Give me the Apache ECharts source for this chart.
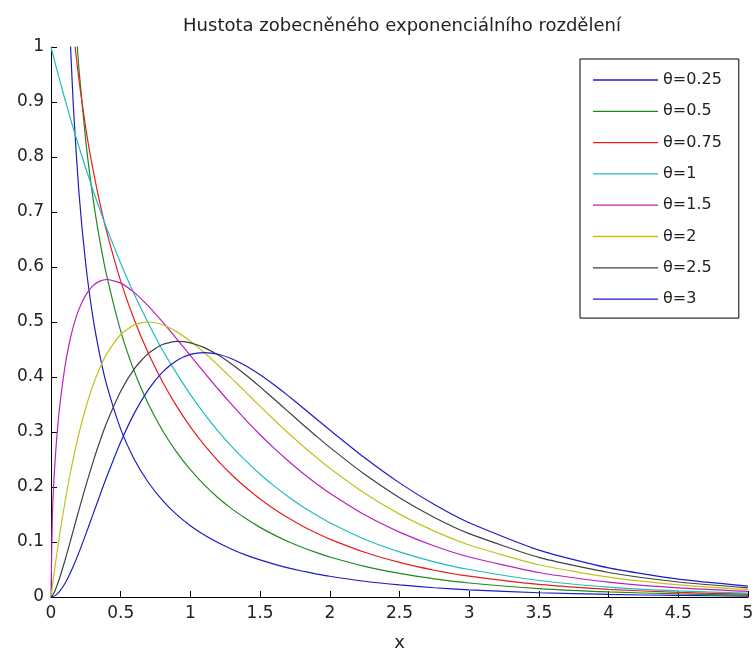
<!DOCTYPE html>
<html>
<head>
<meta charset="utf-8">
<title>Hustota zobecněného exponenciálního rozdělení</title>
<script src="https://cdn.jsdelivr.net/npm/echarts@6/dist/echarts.min.js"></script>
<style>
    html, body { margin: 0; padding: 0; background: #fff; }
    #main { width: 755px; height: 651px; }
</style>
</head>
<body>
<div id="main"></div>
<script>
// x hodnoty
var xs = [0, 0.01, 0.03, 0.06, 0.1, 0.13, 0.16, 0.2, 0.25, 0.3, 0.35, 0.4, 0.5, 0.6, 0.7, 0.8, 0.9, 1.0, 1.1, 1.2, 1.3, 1.4, 1.5, 1.6, 1.7, 1.8, 1.9, 2.0, 2.25, 2.5, 2.75, 3.0, 3.5, 4.0, 4.5, 5.0];

var names = ['θ=0.25', 'θ=0.5', 'θ=0.75', 'θ=1', 'θ=1.5', 'θ=2', 'θ=2.5', 'θ=3'];
var colors = ['#1c1cc8', '#1f8a1f', '#e61e1e', '#1fbdbd', '#bd1fbd', '#c2c21f', '#404040', '#1c1cc8'];

// hustoty
var y025 = [null, 7.856, 3.404, 1.986, 1.3204, 1.0642, 0.8935, 0.7368, 0.6036, 0.5098, 0.4398, 0.3852, 0.3052, 0.2492, 0.2077, 0.1757, 0.1503, 0.1297, 0.1127, 0.0985, 0.0865, 0.0762, 0.0674, 0.0598, 0.0531, 0.0473, 0.0422, 0.0377, 0.0286, 0.0219, 0.0168, 0.0129, 0.0077, 0.0046, 0.0028, 0.0017];
var y05 = [null, 4.963, 2.823, 1.951, 1.4666, 1.2575, 1.108, 0.9615, 0.8279, 0.7276, 0.6484, 0.5837, 0.4835, 0.4085, 0.35, 0.3028, 0.2639, 0.2314, 0.2038, 0.1801, 0.1598, 0.1421, 0.1266, 0.113, 0.101, 0.0905, 0.0811, 0.0728, 0.0557, 0.0428, 0.033, 0.0255, 0.0153, 0.0092, 0.0056, 0.0034];
var y075 = [null, 2.351, 1.756, 1.4378, 1.2219, 1.1146, 1.0307, 0.9411, 0.8517, 0.7787, 0.7169, 0.6635, 0.5744, 0.5022, 0.4422, 0.3912, 0.3474, 0.3094, 0.2762, 0.2471, 0.2213, 0.1985, 0.1782, 0.1602, 0.1441, 0.1297, 0.1168, 0.1053, 0.0813, 0.0629, 0.0487, 0.0378, 0.0228, 0.0138, 0.0084, 0.0051];
var y1 = [1, 0.99, 0.97, 0.942, 0.905, 0.878, 0.852, 0.819, 0.779, 0.741, 0.7047, 0.67, 0.607, 0.549, 0.497, 0.449, 0.407, 0.368, 0.333, 0.301, 0.2725, 0.247, 0.2231, 0.202, 0.1827, 0.165, 0.1496, 0.135, 0.105, 0.082, 0.064, 0.05, 0.03, 0.018, 0.011, 0.007];
var y15 = [0, 0.1481, 0.2502, 0.3409, 0.4187, 0.4599, 0.4915, 0.5229, 0.5494, 0.5657, 0.5744, 0.5773, 0.5707, 0.553, 0.5285, 0.5002, 0.4698, 0.4387, 0.4078, 0.3777, 0.3487, 0.3211, 0.295, 0.2706, 0.2477, 0.2265, 0.2069, 0.1888, 0.1495, 0.118, 0.0928, 0.0728, 0.0446, 0.0272, 0.0166, 0.0101];
var y2 = [0, 0.0197, 0.0574, 0.1097, 0.1722, 0.2141, 0.252, 0.2968, 0.3445, 0.384, 0.4162, 0.442, 0.4773, 0.4952, 0.5, 0.4949, 0.4825, 0.4651, 0.4441, 0.4209, 0.3965, 0.3716, 0.3467, 0.3223, 0.2986, 0.276, 0.2544, 0.234, 0.1886, 0.1507, 0.1197, 0.0946, 0.0586, 0.036, 0.022, 0.0134];
var y25 = [0, 0.0025, 0.0123, 0.0331, 0.0664, 0.0934, 0.1211, 0.158, 0.2026, 0.2444, 0.2827, 0.3172, 0.3742, 0.4158, 0.4434, 0.459, 0.4646, 0.4622, 0.4534, 0.4399, 0.4227, 0.4032, 0.382, 0.3599, 0.3375, 0.3151, 0.2933, 0.272, 0.223, 0.1805, 0.1447, 0.1153, 0.0721, 0.0445, 0.0273, 0.0167];
var y3 = [0, 0.0003, 0.0025, 0.0096, 0.0246, 0.0391, 0.0559, 0.0807, 0.1143, 0.1493, 0.1844, 0.2186, 0.2817, 0.3352, 0.3775, 0.4088, 0.4295, 0.441, 0.4444, 0.4413, 0.4327, 0.4199, 0.404, 0.3858, 0.3661, 0.3455, 0.3245, 0.3036, 0.2531, 0.2075, 0.1681, 0.1349, 0.0852, 0.053, 0.0326, 0.0199];

var ys = [y025, y05, y075, y1, y15, y2, y25, y3];

var font = 'DejaVu Sans, Verdana, sans-serif';
var chart = echarts.init(document.getElementById('main'));

var series = [];
for (var i = 0; i < ys.length; i++) {
    series.push({
        name: names[i],
        type: 'line',
        symbol: 'none',
        smooth: 0.2,
        clip: true,
        animation: false,
        lineStyle: { color: colors[i], width: 1.2 },
        itemStyle: { color: colors[i] },
        data: xs.map(function (x, k) { return [x, ys[i][k]]; })
    });
}

var option = {
    animation: false,
    backgroundColor: '#fff',
    title: {
        text: 'Hustota zobecněného exponenciálního rozdělení',
        left: 397,
        top: 12,
        textAlign: 'center',
        textStyle: { fontFamily: font, fontSize: 18, fontWeight: 'normal', color: '#222' }
    },
    grid: { left: 51, right: 7, top: 47, bottom: 54, outerBoundsMode: 'none' },
    legend: {
        orient: 'vertical',
        left: 580,
        top: 59,
        data: names,
        icon: 'rect',
        itemWidth: 65,
        itemHeight: 1.3,
        itemGap: 15.3,
        padding: [13, 17, 11, 13],
        backgroundColor: '#fff',
        borderColor: '#000',
        borderWidth: 1,
        borderRadius: 0,
        textStyle: { fontFamily: font, fontSize: 16, color: '#222' }
    },
    xAxis: {
        type: 'value',
        min: 0,
        max: 5,
        interval: 0.5,
        name: 'x',
        nameLocation: 'middle',
        nameGap: 37,
        nameTextStyle: { fontFamily: font, fontSize: 18, color: '#222' },
        axisLine: { onZero: false, lineStyle: { color: '#000', width: 1 } },
        axisTick: { inside: true, length: 6, lineStyle: { color: '#000' } },
        axisLabel: { fontFamily: font, fontSize: 17, color: '#222', margin: 8 },
        splitLine: { show: false }
    },
    yAxis: {
        type: 'value',
        min: 0,
        max: 1,
        interval: 0.1,
        axisLine: { show: true, lineStyle: { color: '#000', width: 1 } },
        axisTick: { show: true, inside: true, length: 6, lineStyle: { color: '#000' } },
        axisLabel: { fontFamily: font, fontSize: 17, color: '#222', margin: 7 },
        splitLine: { show: false }
    },
    series: series
};

chart.setOption(option);
</script>
</body>
</html>
